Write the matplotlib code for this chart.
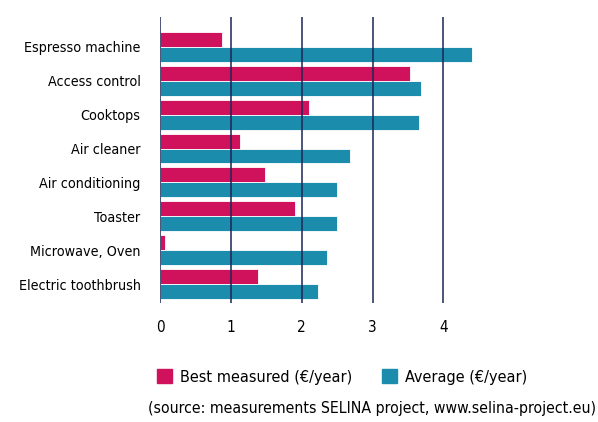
import matplotlib
matplotlib.use("Agg")
import matplotlib.pyplot as plt
from matplotlib.patches import Patch

plt.rcParams['font.family'] = ['DejaVu Sans']
plt.rcParams['font.stretch'] = 'condensed'

# data
categories = ["Espresso machine", "Access control", "Cooktops", "Air cleaner",
              "Air conditioning", "Toaster", "Microwave, Oven", "Electric toothbrush"]
best = [0.88, 3.53, 2.10, 1.13, 1.48, 1.91, 0.07, 1.38]
average = [4.40, 3.68, 3.65, 2.68, 2.50, 2.50, 2.35, 2.23]
xticks = [0, 1, 2, 3, 4]

pink = '#d0125c'
teal = '#1b8cac'
navy = '#1d2656'

fig = plt.figure(figsize=(5.98, 4.22), dpi=100)
ax = fig.add_axes([0.2676, 0.282, 0.545, 0.678])

y = list(range(len(categories)))
h = 0.44
ax.barh([i - 0.22 for i in y], best, height=h, color=pink, edgecolor='white', linewidth=0.6)
ax.barh([i + 0.22 for i in y], average, height=h, color=teal, edgecolor='white', linewidth=0.6)

ax.set_xlim(0, 4.6)
ax.set_ylim(7.56, -0.886)
ax.set_yticks(y)
ax.set_yticklabels(categories, fontsize=10.3)
ax.set_xticks(xticks)
ax.set_xticklabels([str(t) for t in xticks], fontsize=11)
ax.tick_params(axis='y', length=0, pad=14)
ax.tick_params(axis='x', length=0, pad=12)

# vertical lines drawn over the bars
for t in xticks:
    ax.axvline(t, color=navy, lw=1.1, zorder=5)

for s in ax.spines.values():
    s.set_visible(False)

handles = [Patch(color=pink, label='Best measured (€/year)'),
           Patch(color=teal, label='Average (€/year)')]
fig.legend(handles=handles, loc='center left', bbox_to_anchor=(0.2625, 0.107),
           ncol=2, frameon=False, fontsize=11.6, handlelength=0.95, handleheight=0.95,
           handletextpad=0.5, columnspacing=1.8, borderpad=0, borderaxespad=0)
fig.text(0.247, 0.033, '(source: measurements SELINA project, www.selina-project.eu)',
         fontsize=11.3, va='center', ha='left')

fig.savefig('out.png', dpi=100)
